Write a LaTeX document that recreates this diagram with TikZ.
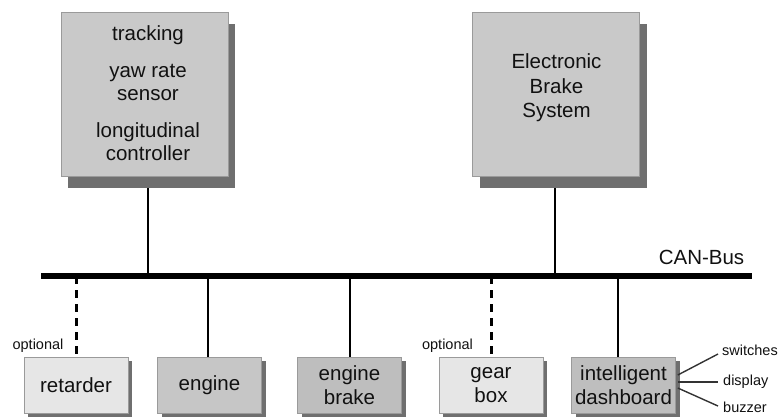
\documentclass[tikz,border=0pt]{standalone}
\usepackage{fontspec}
\setmainfont{Liberation Sans}
\usetikzlibrary{shadows}
\definecolor{ecufill}{HTML}{C9C9C9}
\definecolor{shadowgray}{HTML}{6F6F6F}
\definecolor{edgegray}{HTML}{9A9A9A}
\definecolor{lightfill}{HTML}{E6E6E6}
\definecolor{midfill}{HTML}{C6C6C6}
\definecolor{darkfill}{HTML}{BEBEBE}
\definecolor{textgray}{HTML}{111111}
\tikzset{
  bigtext/.style={font=\fontsize{20.5}{23.5}\selectfont, text=textgray, align=center, inner sep=0pt},
  smalltext/.style={font=\fontsize{14.5}{17}\selectfont, text=textgray, inner sep=0pt},
  ecubox/.style={draw=edgegray, line width=0.6pt, fill=ecufill, minimum width=167pt, minimum height=164pt,
    inner sep=0pt, drop shadow={shadow xshift=7pt, shadow yshift=-12pt, fill=shadowgray, opacity=1}},
  unitbox/.style={draw=edgegray, line width=0.6pt, minimum width=104pt, minimum height=56pt, inner sep=0pt,
    font=\fontsize{20.5}{23.5}\selectfont, text=textgray, align=center,
    drop shadow={shadow xshift=4pt, shadow yshift=-4pt, fill=shadowgray, opacity=1}},
  link/.style={line width=2pt, black},
  optlink/.style={line width=3pt, black, dash pattern=on 8pt off 6pt},
  bus/.style={line width=6pt, black},
  feed/.style={line width=1.4pt, black!80}
}
\begin{document}
\begin{tikzpicture}[x=1pt, y=-1pt]
\useasboundingbox (0,0) rectangle (781,416);

% control units above the bus
\node[ecubox] (acc) at (144.5,94) {};
\node[bigtext, font=\fontsize{20.5}{23}\selectfont] (acctext) at (148,93)
  {tracking\\[14pt]yaw rate\\sensor\\[14pt]longitudinal\\controller};
\node[ecubox] (ebs) at (556,94) {};
\node[bigtext, font=\fontsize{20.5}{24.5}\selectfont] (ebstext) at (556.5,88) {Electronic\\Brake\\System};

% CAN bus
\coordinate (busL) at (41,276);
\coordinate (busR) at (752,276);
\draw[bus] (busL) -- (busR);
\node[bigtext] (canlabel) at (701.5,257) {CAN-Bus};

% taps on the bus
\coordinate (tacc) at (148,276);
\coordinate (tebs) at (555,276);
\coordinate (tret) at (76,276);
\coordinate (teng) at (208,276);
\coordinate (tbrk) at (350,276);
\coordinate (tgear) at (491,276);
\coordinate (tdash) at (618,276);

\draw[link] ([yshift=-12pt]tacc |- acc.south) -- (tacc);
\draw[link] ([yshift=-12pt]tebs |- ebs.south) -- (tebs);

% units below the bus
\node[unitbox, fill=lightfill] (ret) at (76,385) {retarder};
\node[unitbox, fill=midfill] (eng) at (209.5,385) {engine};
\node[unitbox, fill=darkfill] (brk) at (349.5,385) {engine\\brake};
\node[unitbox, fill=lightfill] (gear) at (491,385) {gear\\box};
\node[unitbox, fill=darkfill] (dash) at (623.5,385) {intelligent\\dashboard};

\draw[optlink] (tret) -- (tret |- ret.north);
\draw[link] (teng) -- (teng |- eng.north);
\draw[link] (tbrk) -- (tbrk |- brk.north);
\draw[optlink] (tgear) -- (tgear |- gear.north);
\draw[link] (tdash) -- (tdash |- dash.north);

\node[smalltext] (optret) at (38,346) {optional};
\node[smalltext] (optgear) at (447.5,346) {optional};

% dashboard peripherals
\node[smalltext, anchor=west] (sw) at (722,350) {switches};
\node[smalltext, anchor=west] (disp) at (723,382) {display};
\node[smalltext, anchor=west] (buz) at (723,407) {buzzer};
\draw[feed] ([xshift=2pt,yshift=10pt]dash.east) -- ([xshift=-4pt,yshift=-4pt]sw.west);
\draw[feed] ([xshift=2pt,yshift=3pt]dash.east) -- ([xshift=-5pt]disp.west);
\draw[feed] ([xshift=2pt,yshift=-3pt]dash.east) -- ([xshift=-5pt,yshift=1pt]buz.west);
\end{tikzpicture}
\end{document}
